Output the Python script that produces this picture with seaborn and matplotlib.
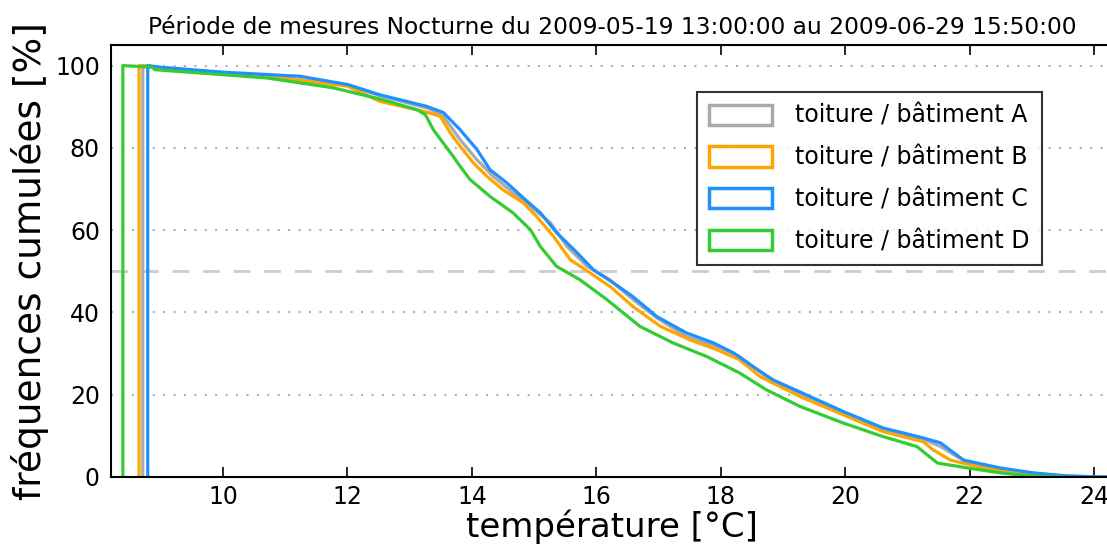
#!/usr/bin/env python3
"""
Cumulative frequency curves of night-time roof temperatures, per building.
"""

import matplotlib

matplotlib.use("Agg")
import matplotlib.pyplot as plt
import pandas as pd
import seaborn as sns
from matplotlib.patches import Patch

TITLE = "Période de mesures Nocturne du 2009-05-19 13:00:00 au 2009-06-29 15:50:00"
LABELS = [
    "toiture / bâtiment A",
    "toiture / bâtiment B",
    "toiture / bâtiment C",
    "toiture / bâtiment D",
]
COLORS = ["#aaaaaa", "#ffa500", "#1e90ff", "#33cc33"]

temp_a = [8.71, 8.71, 9.0, 10.0, 11.0, 12.0, 12.5, 13.0, 13.3, 13.54, 13.81, 14.08,
          14.34, 14.66, 14.94, 15.26, 15.53, 15.85, 16.22, 16.59, 16.97, 17.45,
          17.94, 18.3, 18.73, 19.28, 19.97, 20.61, 21.25, 21.53, 21.8, 22.0, 22.5,
          23.0, 23.5, 24.0, 24.3]
freq_a = [0, 100, 99.5, 98.2, 97.0, 95.2, 92.8, 90.8, 89.6, 87.7, 82.0, 77.1,
          73.1, 69.1, 65.8, 61.8, 56.0, 51.2, 47.9, 43.1, 38.7, 34.1,
          31.7, 29.3, 24.4, 20.0, 15.6, 11.6, 9.2, 7.4, 4.9, 3.4, 2.0,
          0.9, 0.3, 0.05, 0]

temp_b = [8.65, 8.65, 9.0, 10.0, 11.0, 12.0, 12.52, 13.22, 13.49, 13.65, 13.81,
          14.02, 14.24, 14.5, 14.82, 15.04, 15.31, 15.58, 15.9, 16.22, 16.59,
          17.03, 17.51, 17.94, 18.3, 18.63, 18.95, 19.28, 19.97, 20.61, 21.25,
          21.41, 21.69, 22.22, 22.76, 23.3, 23.8]
freq_b = [0, 100, 99.4, 98.0, 96.8, 95.0, 91.3, 88.9, 87.7, 83.7, 80.4,
          76.4, 73.1, 69.8, 66.7, 63.3, 58.5, 52.8, 49.6, 46.3, 41.4,
          36.6, 33.3, 30.9, 28.5, 24.4, 22.0, 19.5, 15.1, 11.0, 8.6,
          6.6, 4.1, 2.2, 0.7, 0.2, 0]

temp_c = [8.79, 8.79, 9.0, 10.0, 11.24, 12.0, 12.52, 13.27, 13.54, 13.81, 14.08,
          14.29, 14.56, 14.82, 15.1, 15.36, 15.69, 15.95, 16.27, 16.59, 16.97,
          17.45, 17.88, 18.2, 18.52, 18.84, 19.28, 19.97, 20.61, 21.25, 21.53,
          21.9, 22.49, 23.02, 23.57, 24.1, 24.3]
freq_c = [0, 100, 99.6, 98.4, 97.4, 95.4, 92.9, 90.1, 88.6, 84.4, 79.6,
          74.7, 71.5, 67.9, 64.2, 59.4, 54.5, 50.4, 47.2, 43.8, 39.0,
          35.0, 32.6, 30.2, 26.8, 23.6, 20.6, 15.9, 11.9, 9.5, 8.3,
          4.1, 2.2, 1.0, 0.24, 0.02, 0]

temp_d = [8.39, 8.39, 8.87, 8.9, 9.63, 10.7, 11.77, 12.57, 13.11, 13.25, 13.38,
          13.7, 13.81, 13.97, 14.29, 14.66, 14.94, 15.1, 15.36, 15.74, 16.17,
          16.7, 17.23, 17.77, 18.3, 18.73, 19.28, 19.97, 20.61, 21.15, 21.48,
          21.96, 22.49, 23.02, 23.5]
freq_d = [0, 100, 99.6, 99.0, 98.2, 97.0, 94.6, 91.7, 89.3, 88.1, 84.4,
          77.9, 75.5, 72.3, 68.2, 64.2, 60.1, 56.0, 51.2, 47.9, 43.1,
          36.6, 32.6, 29.3, 25.3, 21.2, 17.1, 13.1, 9.8, 7.4, 3.4,
          2.2, 1.0, 0.2, 0]


def build_frame() -> pd.DataFrame:
    parts = []
    for label, temps, freqs in zip(
        LABELS, (temp_a, temp_b, temp_c, temp_d), (freq_a, freq_b, freq_c, freq_d)
    ):
        part = pd.DataFrame({"temp": temps, "freq": freqs})
        part["serie"] = label
        parts.append(part)
    return pd.concat(parts, ignore_index=True)


def main() -> None:
    df = build_frame()

    sns.set_theme(style="white")
    plt.rcParams["font.family"] = ["DejaVu Sans"]
    plt.rcParams.update({
        "text.color": "black",
        "axes.labelcolor": "black",
        "xtick.color": "black",
        "ytick.color": "black",
    })

    fig = plt.figure(figsize=(11.07, 5.47), dpi=100)
    ax = fig.add_axes([0.1003, 0.128, 0.905, 0.7897])

    # reference lines: dotted grid + dashed median
    for level in (20, 40, 60, 80, 100):
        ax.axhline(level, color="#b0b0b0", linestyle=(0, (1, 4)), linewidth=1.5, zorder=0)
    ax.axhline(50, color="#cccccc", linestyle=(0, (6, 5)), linewidth=2, zorder=0)

    palette = dict(zip(LABELS, COLORS))
    sns.lineplot(
        ax=ax,
        data=df,
        x="temp",
        y="freq",
        hue="serie",
        hue_order=LABELS,
        palette=palette,
        units="serie",
        estimator=None,
        sort=False,
        linewidth=2.3,
        legend=False,
    )

    ax.set_xlim(8.2, 24.3)
    ax.set_ylim(0, 105)
    ax.set_xticks([10, 12, 14, 16, 18, 20, 22, 24])
    ax.set_yticks([0, 20, 40, 60, 80, 100])
    ax.tick_params(axis="x", direction="in", length=7, width=1.2, top=True,
                   bottom=True, labelsize=17, pad=6)
    ax.tick_params(axis="y", length=0, labelsize=17, pad=8)
    for side in ("left", "bottom", "top"):
        ax.spines[side].set_color("black")
        ax.spines[side].set_linewidth(1.5)
    ax.spines["right"].set_visible(False)

    ax.set_xlabel("température [°C]", fontsize=24.5, labelpad=0)
    ax.set_ylabel("fréquences cumulées [%]", fontsize=27, labelpad=4)
    ax.set_title(TITLE, fontsize=16.8, pad=8)

    handles = [
        Patch(facecolor="none", edgecolor=c, linewidth=2.5, label=lab)
        for lab, c in zip(LABELS, COLORS)
    ]
    leg = ax.legend(
        handles=handles,
        loc="upper right",
        bbox_to_anchor=(0.929, 0.891),
        fontsize=17,
        frameon=True,
        fancybox=False,
        handlelength=2.67,
        handleheight=0.95,
        handletextpad=1.0,
        labelspacing=0.75,
        borderpad=0.5,
        borderaxespad=0,
    )
    leg.get_frame().set_edgecolor("black")
    leg.get_frame().set_linewidth(1.5)

    fig.savefig("out.png", dpi=100)


if __name__ == "__main__":
    main()
